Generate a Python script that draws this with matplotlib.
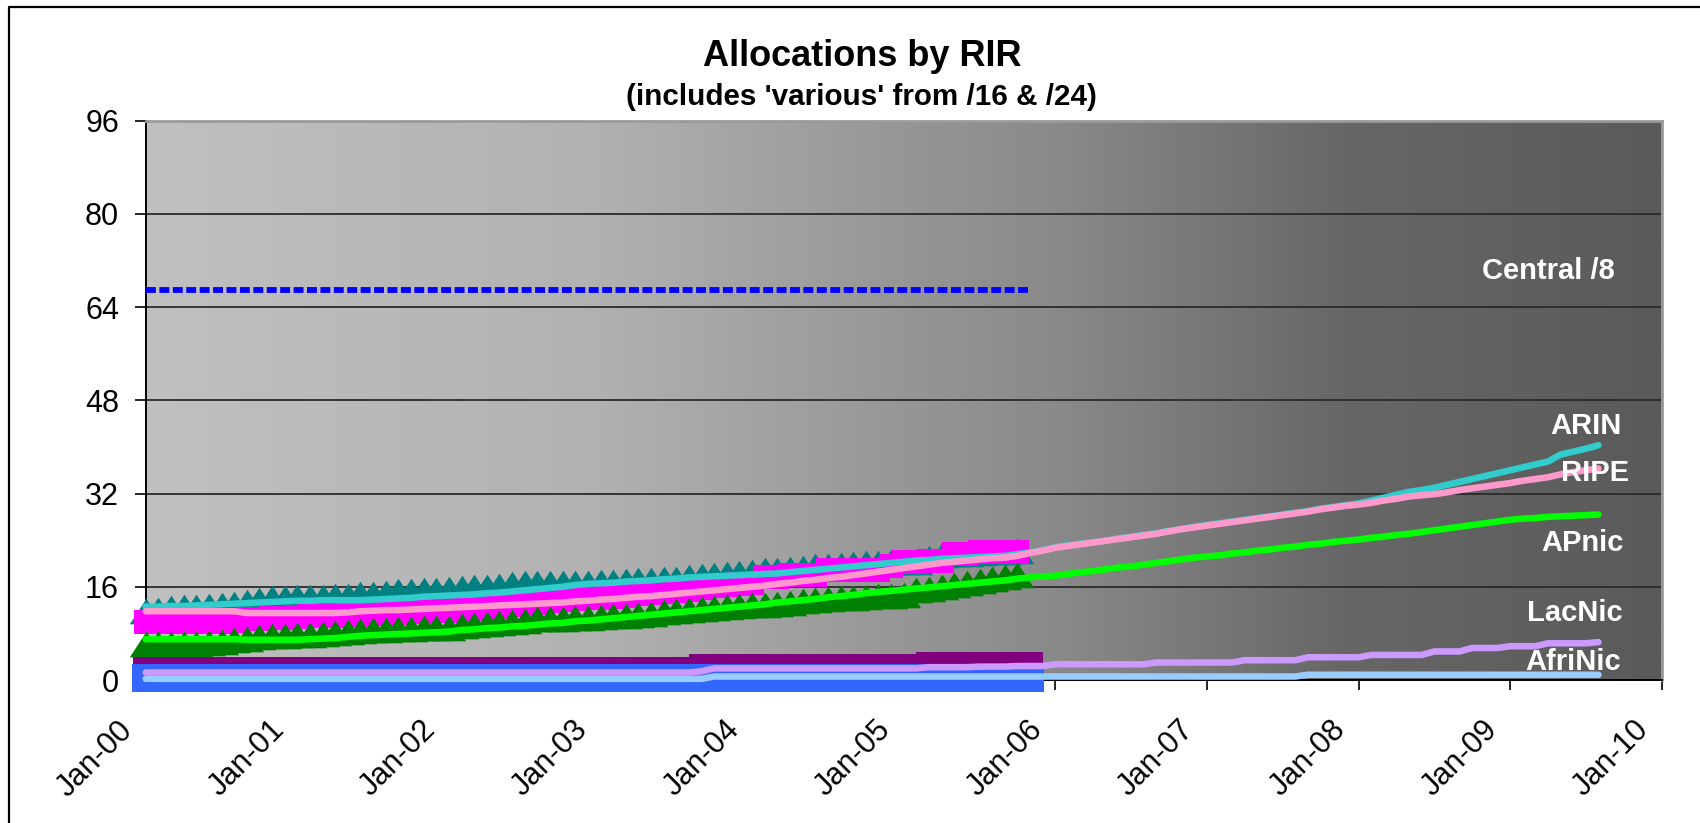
import numpy as np
import matplotlib
matplotlib.use("Agg")
import matplotlib.pyplot as plt
import matplotlib.transforms as mtransforms
from matplotlib.colors import LinearSegmentedColormap
from matplotlib.lines import Line2D

plt.rcParams['font.family'] = ['Liberation Sans', 'DejaVu Sans']

# === monthly totals (/8 equivalents), Jan-2000 .. Aug-2009 ===
arin = [
    12.6, 12.6, 12.7, 12.7, 12.8, 12.9, 13.0, 13.1, 13.2, 13.3, 13.4, 13.5,
    13.6, 13.6, 13.7, 13.7, 13.7, 13.7, 13.8, 13.9, 14.0, 14.1, 14.3, 14.4,
    14.5, 14.6, 14.7, 14.9, 15.0, 15.2, 15.4, 15.6, 15.8, 16.0, 16.3, 16.5,
    16.6, 16.7, 16.9, 17.0, 17.1, 17.3, 17.4, 17.6, 17.7, 17.8, 17.9, 18.0,
    18.1, 18.2, 18.3, 18.5, 18.7, 18.9, 19.1, 19.3, 19.5, 19.7, 19.9, 20.1,
    20.3, 20.5, 20.6, 20.8, 20.9, 21.0, 21.1, 21.2, 21.3, 21.6, 21.9, 22.3,
    22.8, 23.1, 23.4, 23.6, 23.9, 24.3, 24.6, 24.9, 25.2, 25.6, 25.9, 26.3,
    26.6, 26.9, 27.2, 27.5, 27.8, 28.1, 28.4, 28.7, 29.0, 29.4, 29.7, 30.0,
    30.3, 30.8, 31.3, 31.8, 32.3, 32.6, 33.0, 33.5, 34.0, 34.5, 35.0, 35.5,
    36.0, 36.5, 37.0, 37.5, 38.7, 39.2, 39.7, 40.3,
]
ripe = [
    11.8, 11.8, 11.8, 11.8, 11.8, 11.8, 11.8, 11.8, 11.5, 11.5, 11.5, 11.5,
    11.5, 11.5, 11.5, 11.5, 11.6, 11.8, 11.9, 12.0, 12.0, 12.1, 12.2, 12.3,
    12.4, 12.5, 12.6, 12.7, 12.8, 12.9, 13.0, 13.1, 13.2, 13.3, 13.5, 13.6,
    13.8, 13.9, 14.1, 14.3, 14.4, 14.6, 14.8, 15.0, 15.2, 15.4, 15.6, 15.8,
    16.0, 16.2, 16.5, 16.7, 17.0, 17.2, 17.5, 17.7, 18.0, 18.3, 18.6, 18.9,
    19.2, 19.5, 19.8, 20.1, 20.3, 20.5, 20.7, 20.9, 21.0, 21.3, 21.8, 22.2,
    22.7, 23.0, 23.3, 23.6, 23.9, 24.2, 24.5, 24.8, 25.1, 25.5, 25.9, 26.2,
    26.5, 26.8, 27.1, 27.4, 27.7, 28.0, 28.3, 28.6, 28.9, 29.3, 29.6, 29.9,
    30.1, 30.4, 30.8, 31.1, 31.5, 31.7, 31.9, 32.2, 32.6, 32.9, 33.2, 33.5,
    33.8, 34.2, 34.5, 34.8, 35.3, 35.7, 36.0, 36.3,
]
apnic = [
    7.0, 7.0, 7.0, 7.0, 7.0, 7.0, 7.0, 7.0, 6.9, 6.9, 6.9, 6.9,
    6.9, 7.0, 7.1, 7.2, 7.4, 7.6, 7.7, 7.8, 7.9, 8.0, 8.1, 8.2,
    8.3, 8.6, 8.7, 8.9, 9.0, 9.2, 9.3, 9.5, 9.7, 9.8, 10.1, 10.2,
    10.4, 10.6, 10.8, 11.0, 11.2, 11.4, 11.6, 11.8, 12.0, 12.2, 12.4, 12.6,
    12.8, 13.0, 13.3, 13.5, 13.7, 13.9, 14.2, 14.4, 14.6, 14.9, 15.1, 15.3,
    15.5, 15.7, 15.9, 16.1, 16.3, 16.5, 16.7, 16.9, 17.1, 17.4, 17.6, 17.8,
    17.9, 18.2, 18.5, 18.7, 19.0, 19.3, 19.5, 19.8, 20.1, 20.4, 20.7, 21.0,
    21.2, 21.4, 21.7, 21.9, 22.2, 22.4, 22.7, 22.9, 23.2, 23.4, 23.7, 23.9,
    24.1, 24.4, 24.6, 24.9, 25.1, 25.4, 25.7, 26.0, 26.3, 26.6, 26.9, 27.2,
    27.5, 27.7, 27.8, 28.0, 28.1, 28.2, 28.3, 28.4,
]
lacnic = [
    1.3, 1.3, 1.3, 1.3, 1.3, 1.3, 1.3, 1.3, 1.3, 1.3, 1.3, 1.3,
    1.3, 1.3, 1.3, 1.3, 1.3, 1.3, 1.3, 1.3, 1.3, 1.3, 1.3, 1.3,
    1.3, 1.3, 1.3, 1.3, 1.3, 1.3, 1.3, 1.3, 1.3, 1.3, 1.3, 1.3,
    1.3, 1.3, 1.3, 1.3, 1.3, 1.3, 1.3, 1.3, 1.5, 2.0, 2.0, 2.0,
    2.0, 2.0, 2.0, 2.0, 2.0, 2.0, 2.0, 2.0, 2.0, 2.0, 2.0, 2.0,
    2.0, 2.0, 2.2, 2.2, 2.2, 2.2, 2.3, 2.3, 2.3, 2.4, 2.4, 2.4,
    2.7, 2.7, 2.7, 2.7, 2.7, 2.7, 2.7, 2.7, 3.0, 3.0, 3.0, 3.0,
    3.0, 3.0, 3.0, 3.4, 3.4, 3.4, 3.4, 3.4, 3.9, 3.9, 3.9, 3.9,
    3.9, 4.3, 4.3, 4.3, 4.3, 4.3, 4.9, 4.9, 4.9, 5.5, 5.5, 5.5,
    5.8, 5.8, 5.8, 6.3, 6.3, 6.3, 6.3, 6.5,
]
afrinic = [
    0.2, 0.2, 0.2, 0.2, 0.2, 0.2, 0.2, 0.2, 0.2, 0.2, 0.2, 0.2,
    0.2, 0.2, 0.2, 0.2, 0.2, 0.2, 0.2, 0.2, 0.2, 0.2, 0.2, 0.2,
    0.2, 0.2, 0.2, 0.2, 0.2, 0.2, 0.2, 0.2, 0.2, 0.2, 0.2, 0.2,
    0.2, 0.2, 0.2, 0.2, 0.2, 0.2, 0.2, 0.2, 0.2, 0.6, 0.6, 0.6,
    0.6, 0.6, 0.6, 0.6, 0.6, 0.6, 0.6, 0.6, 0.6, 0.6, 0.6, 0.6,
    0.6, 0.6, 0.6, 0.6, 0.6, 0.6, 0.6, 0.6, 0.6, 0.6, 0.6, 0.6,
    0.6, 0.6, 0.6, 0.6, 0.6, 0.6, 0.6, 0.6, 0.6, 0.6, 0.6, 0.6,
    0.6, 0.6, 0.6, 0.6, 0.6, 0.6, 0.6, 0.6, 0.9, 0.9, 0.9, 0.9,
    0.9, 0.9, 0.9, 0.9, 0.9, 0.9, 0.9, 0.9, 0.9, 0.9, 0.9, 0.9,
    0.9, 0.9, 0.9, 0.9, 0.9, 0.9, 0.9, 0.9,
]

# === older series (heavy markers), Jan-2000 .. Oct/Nov-2005 ===
arin_old = [
    11.9, 12.1, 12.3, 12.5, 12.6, 12.7, 12.8, 13.1, 13.4, 13.7, 14.0, 14.1,
    14.2, 14.2, 14.3, 14.4, 14.5, 14.7, 14.8, 15.0, 15.2, 15.3, 15.4, 15.5,
    15.6, 15.8, 15.9, 16.0, 16.2, 16.4, 16.6, 16.6, 16.6, 16.6, 16.6, 16.7,
    16.8, 16.9, 17.0, 17.1, 17.2, 17.3, 17.4, 17.6, 17.8, 18.0, 18.2, 18.4,
    18.6, 18.8, 18.9, 19.1, 19.3, 19.5, 19.6, 19.8, 19.9, 20.0, 20.1, 20.2,
    20.3, 20.3, 20.9, 21.5, 21.6, 21.7, 21.8, 21.9, 22.0, 22.1,
]
ripe_old = [
    10.0, 10.0, 10.0, 10.0, 10.0, 10.0, 10.0, 10.2, 10.4, 10.5, 10.6, 10.7,
    10.8, 10.9, 11.0, 11.0, 11.1, 11.2, 11.3, 11.4, 11.5, 11.6, 11.7, 11.8,
    11.9, 12.0, 12.2, 12.4, 12.6, 12.8, 13.0, 13.2, 13.6, 13.8, 13.9, 14.0,
    14.1, 14.3, 14.5, 14.7, 14.9, 15.1, 15.3, 15.5, 15.8, 16.1, 16.3, 16.5,
    16.7, 17.6, 17.7, 18.0, 18.0, 18.0, 18.9, 18.9, 18.9, 18.9, 18.9, 19.5,
    20.3, 20.3, 20.4, 20.4, 21.6, 21.6, 22.0, 22.0, 22.0, 22.0,
]
apnic_old = [
    6.1, 6.1, 6.1, 6.1, 6.2, 6.4, 6.6, 6.8, 7.1, 7.4, 7.5, 7.6,
    7.7, 7.8, 7.9, 8.1, 8.3, 8.4, 8.5, 8.6, 8.7, 8.8, 8.9, 8.9,
    9.0, 9.2, 9.4, 9.6, 9.8, 10.0, 10.2, 10.4, 10.5, 10.5, 10.6, 10.7,
    10.8, 10.9, 11.0, 11.2, 11.4, 11.6, 11.8, 12.0, 12.2, 12.4, 12.6, 12.7,
    12.8, 12.9, 13.1, 13.3, 13.5, 13.7, 13.9, 14.0, 14.1, 14.3, 14.4, 14.5,
    14.6, 15.4, 15.7, 16.0, 16.3, 16.6, 17.0, 17.4, 17.7, 18.1,
]
lacnic_old = [
    1.7, 1.7, 1.7, 1.7, 1.7, 1.7, 1.7, 1.7, 1.7, 1.7, 1.7, 1.7,
    1.7, 1.7, 1.7, 1.7, 1.7, 1.7, 1.7, 1.7, 1.7, 1.7, 1.7, 1.7,
    1.7, 1.7, 1.7, 1.7, 1.7, 1.7, 1.7, 1.7, 1.7, 1.7, 1.7, 1.7,
    1.7, 1.7, 1.7, 1.7, 1.7, 1.7, 1.7, 1.7, 2.15, 2.15, 2.15, 2.15,
    2.15, 2.15, 2.15, 2.15, 2.15, 2.15, 2.15, 2.15, 2.15, 2.15, 2.15, 2.15,
    2.15, 2.15, 2.55, 2.55, 2.55, 2.55, 2.55, 2.55, 2.55, 2.55, 2.55,
]
afrinic_old = [
    0.4, 0.4, 0.4, 0.4, 0.4, 0.4, 0.4, 0.4, 0.4, 0.4, 0.4, 0.4,
    0.4, 0.4, 0.4, 0.4, 0.4, 0.4, 0.4, 0.4, 0.4, 0.4, 0.4, 0.4,
    0.4, 0.4, 0.4, 0.4, 0.4, 0.4, 0.4, 0.4, 0.4, 0.4, 0.4, 0.4,
    0.4, 0.4, 0.4, 0.4, 0.4, 0.4, 0.4, 0.4, 0.4, 0.4, 0.4, 0.4,
    0.4, 0.4, 0.4, 0.4, 0.4, 0.4, 0.4, 0.4, 0.4, 0.4, 0.4, 0.4,
    0.4, 0.4, 0.4, 0.4, 0.4, 0.4, 0.4, 0.4, 0.4, 0.4, 0.4,
]
central = [
    67, 67, 67, 67, 67, 67, 67, 67, 67, 67, 67, 67,
    67, 67, 67, 67, 67, 67, 67, 67, 67, 67, 67, 67,
    67, 67, 67, 67, 67, 67, 67, 67, 67, 67, 67, 67,
    67, 67, 67, 67, 67, 67, 67, 67, 67, 67, 67, 67,
    67, 67, 67, 67, 67, 67, 67, 67, 67, 67, 67, 67,
    67, 67, 67, 67, 67, 67, 67, 67, 67, 67, 67,
]

year_labels = ["Jan-00", "Jan-01", "Jan-02", "Jan-03", "Jan-04", "Jan-05",
               "Jan-06", "Jan-07", "Jan-08", "Jan-09", "Jan-10"]
y_ticks = [0, 16, 32, 48, 64, 80, 96]


def months(series):
    return np.arange(len(series))


W, H = 1700, 823
fig = plt.figure(figsize=(W / 100, H / 100), dpi=100)
fig.patch.set_facecolor("white")
ax = fig.add_axes([145.7 / W, 1 - 680 / H, (1661.7 - 145.7) / W, (680 - 120.7) / H])

# background gradient (light grey -> dark grey)
bg = LinearSegmentedColormap.from_list(
    "bg", [(0, "#c0c0c0"), (0.29, "#b2b2b2"), (0.5, "#969696"),
           (0.6, "#8a8a8a"), (0.79, "#676767"), (1.0, "#5a5a5a")])
ax.imshow(np.linspace(0, 1, 512).reshape(1, -1), cmap=bg, aspect="auto",
          extent=[0, 120, 0, 96], zorder=0, interpolation="bilinear")

# wide triangle marker like the spreadsheet one
tri = [(0, 1), (-1.3, -1), (1.3, -1), (0, 1)]

# old series: heavy markers
ax.plot(months(arin_old), arin_old, ls="none", marker=tri, ms=24, mew=0,
        color="#008080", zorder=2.0, clip_on=False)
ax.plot(months(ripe_old), ripe_old, ls="none", marker="s", ms=17.3, mew=0,
        color="#ff00ff", zorder=2.1, clip_on=False)
ax.plot(months(apnic_old), apnic_old, ls="none", marker=tri, ms=24, mew=0,
        color="#008000", zorder=2.2, clip_on=False)
ax.plot(months(lacnic_old), lacnic_old, ls="none", marker="s", ms=19.4, mew=0,
        color="#800080", zorder=2.3, clip_on=False)
ax.plot(months(afrinic_old), afrinic_old, ls="none", marker="s", ms=20.2, mew=0,
        color="#3366ff", zorder=2.4, clip_on=False)
ax.plot(months(central), central, color="#0000ff", lw=4.2, dashes=(1.7, 0.6),
        dash_capstyle="butt", zorder=2.5)

# current series: thick lines
line_kw = dict(lw=4.7, solid_capstyle="round", solid_joinstyle="round", clip_on=False)
ax.plot(months(arin), arin, color="#33cccc", zorder=3.0, **line_kw)
ax.plot(months(ripe), ripe, color="#ff99cc", zorder=3.1, **line_kw)
ax.plot(months(apnic), apnic, color="#00ff00", zorder=3.2, **line_kw)
ax.plot(months(lacnic), lacnic, color="#cc99ff", zorder=3.3, **line_kw)
ax.plot(months(afrinic), afrinic, color="#99ccff", zorder=3.4, **line_kw)

# series labels
lab_kw = dict(color="white", fontsize=21, fontweight="bold", ha="center", va="baseline", zorder=5)
ax.text(111.0, 68.9, "Central /8", **lab_kw)
ax.text(114.0, 42.3, "ARIN", **lab_kw)
ax.text(114.7, 34.1, "RIPE", **lab_kw)
ax.text(113.7, 22.1, "APnic", **lab_kw)
ax.text(113.1, 10.2, "LacNic", **lab_kw)
ax.text(113.0, 1.7, "AfriNic", **lab_kw)

# axes
ax.set_xlim(0, 120)
ax.set_ylim(0, 96)
ax.set_yticks(y_ticks)
ax.set_yticklabels([str(v) for v in y_ticks])
ax.set_xticks(np.arange(0, 121, 12))
ax.set_xticklabels(year_labels, rotation=45, ha="right", va="top", rotation_mode="anchor")
ax.tick_params(axis="y", direction="out", length=7.7, width=1.2, pad=11.5, labelsize=22)
ax.tick_params(axis="x", direction="out", length=7.2, width=1.2, pad=18, labelsize=22)
shift = mtransforms.ScaledTranslation(-0.28, 0, fig.dpi_scale_trans)
for lab in ax.get_xticklabels():
    lab.set_transform(lab.get_transform() + shift)

ax.set_axisbelow(True)
ax.yaxis.grid(True, color="#2a2a2a", lw=1.3)
ax.xaxis.grid(False)
for side in ("left", "bottom"):
    ax.spines[side].set_color("black")
    ax.spines[side].set_linewidth(1.4)
    ax.spines[side].set_zorder(1)
for side in ("top", "right"):
    ax.spines[side].set_color("#9a9a9a")
    ax.spines[side].set_linewidth(2)
    ax.spines[side].set_zorder(1)

# titles
fig.text(862 / W, 1 - 66 / H, "Allocations by RIR", ha="center", va="baseline",
         fontsize=26, fontweight="bold")
fig.text(861 / W, 1 - 105 / H, "(includes 'various' from /16 & /24)", ha="center",
         va="baseline", fontsize=21.3, fontweight="bold")

# outer frame (chart border runs off the right and bottom)
fig.add_artist(Line2D([9 / W, 9 / W, 1.0], [0, 1 - 7.3 / H, 1 - 7.3 / H],
                      transform=fig.transFigure, color="black", lw=1.6))

fig.savefig("out.png", dpi=100)
